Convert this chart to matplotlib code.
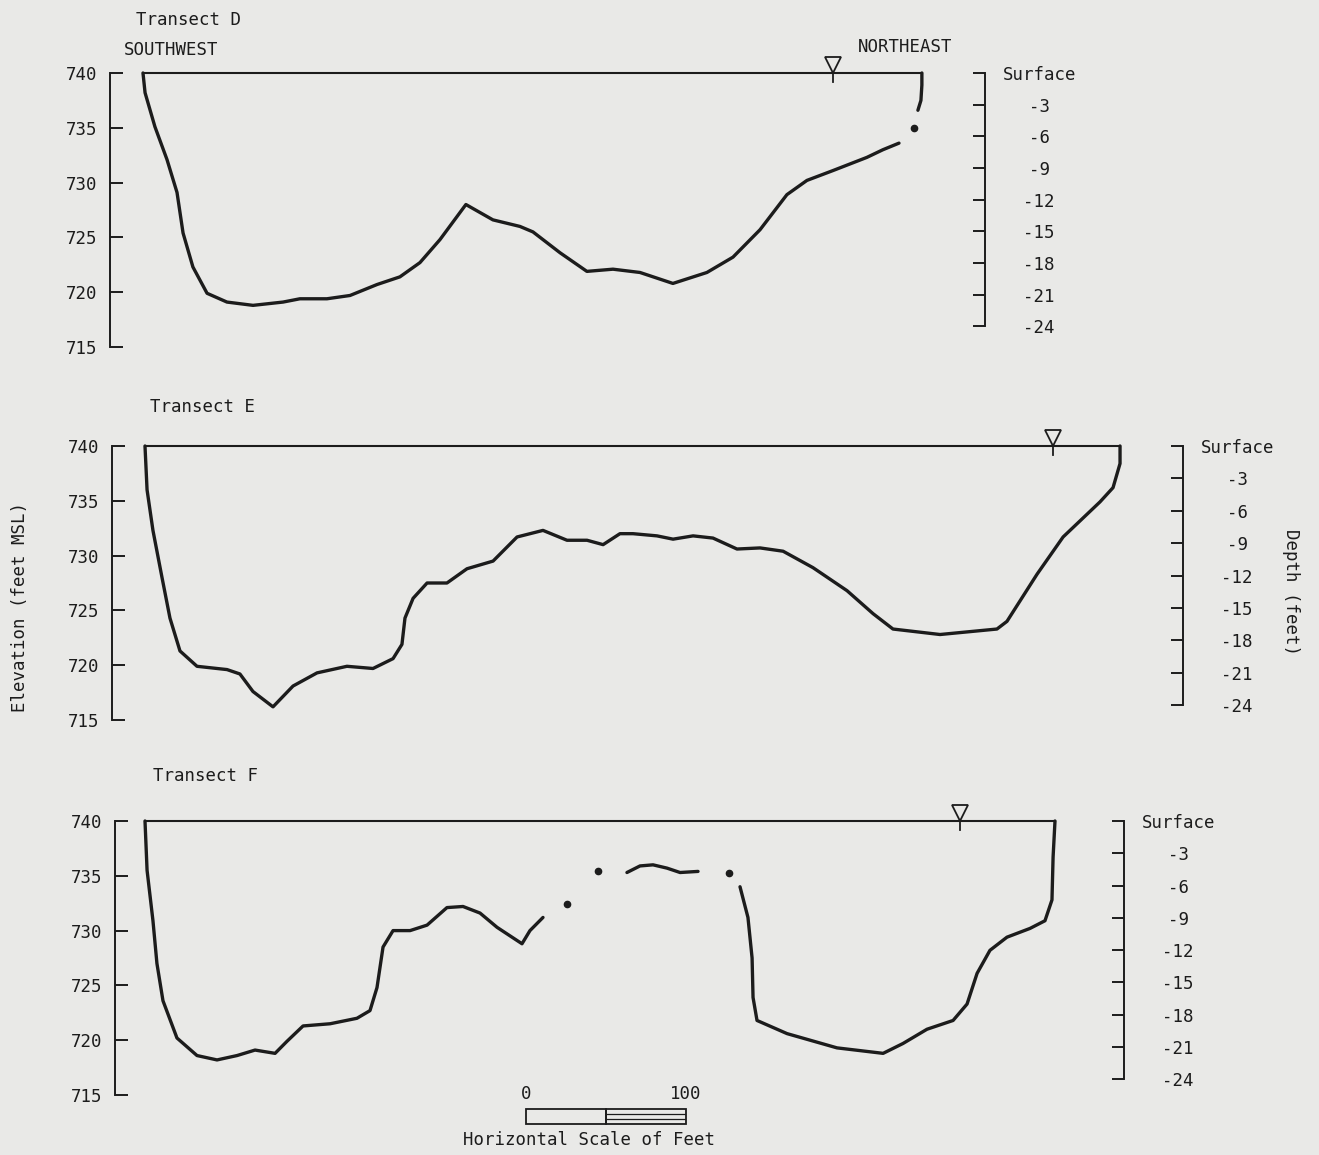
import matplotlib
matplotlib.use('Agg')
import matplotlib.pyplot as plt
from matplotlib.patches import Rectangle
from matplotlib.transforms import offset_copy

W, H = 1319, 1155
BG = '#e9e9e7'
INK = '#1c1c1c'
FONT = 'DejaVu Sans Mono'
FS = 12.5

plt.rcParams['font.family'] = [FONT, 'DejaVu Sans']
plt.rcParams['text.color'] = INK

# axis scales
ELEV_TICKS = [715, 720, 725, 730, 735, 740]
DEPTH_TICKS = [0, -3, -6, -9, -12, -15, -18, -21, -24]
DEPTH_LABELS = ['Surface', '-3', '-6', '-9', '-12', '-15', '-18', '-21', '-24']
SCALE_TICKS = [0, 100]

# Transect D (distance from southwest bank in feet, elevation in feet MSL)
D_MAIN_X = [0, 1.3, 7.5, 15.1, 21.4, 25.2, 31.4, 40.3, 52.8, 69.2, 88.1, 98.7, 115.7,
            130.2, 147.2, 161.6, 174.2, 186.8, 203.1, 220.1, 237.1, 245.3, 262.3,
            279.2, 295.6, 312.6, 333.3, 354.7, 371.1, 388.1, 405.0, 417.6, 434.0,
            455.3, 465.4, 475.5]
D_MAIN_ELEV = [740, 738.2, 735.1, 732.1, 729.1, 725.4, 722.3, 719.9, 719.1, 718.8, 719.1,
               719.4, 719.4, 719.7, 720.7, 721.4, 722.7, 724.8, 728.0, 726.6, 726.0,
               725.5, 723.6, 721.9, 722.1, 721.8, 720.8, 721.8, 723.2, 725.7, 728.9,
               730.2, 731.1, 732.3, 733.0, 733.6]
D_BANK_X = [487.4, 489.3, 489.9, 489.9]
D_BANK_ELEV = [736.6, 737.5, 738.9, 740]
D_DOTS_X = [484.9]
D_DOTS_ELEV = [735.0]
D_GAUGE_X = 434.0

# Transect E
E_X = [0, 1.3, 5.0, 10.7, 15.7, 22.0, 32.7, 51.6, 59.7, 67.9, 80.5, 93.1, 108.2, 127.0,
       143.4, 156.0, 161.6, 163.5, 168.6, 177.4, 189.9, 202.5, 218.9, 234.0, 250.3,
       265.4, 278.0, 288.1, 298.7, 306.9, 322.0, 332.1, 344.7, 357.2, 372.3, 386.8,
       401.3, 420.1, 441.5, 457.9, 470.4, 500.0, 535.8, 542.1, 561.0, 577.4, 600.6,
       608.8, 613.2, 613.2]
E_ELEV = [740, 736.0, 732.3, 728.0, 724.3, 721.3, 719.9, 719.6, 719.2, 717.6, 716.2,
          718.1, 719.3, 719.9, 719.7, 720.6, 721.9, 724.3, 726.1, 727.5, 727.5, 728.8,
          729.5, 731.7, 732.3, 731.4, 731.4, 731.0, 732.0, 732.0, 731.8, 731.5, 731.8,
          731.6, 730.6, 730.7, 730.4, 728.9, 726.8, 724.7, 723.3, 722.8, 723.3, 724.0,
          728.3, 731.7, 734.9, 736.2, 738.4, 740]
E_GAUGE_X = 571.1

# Transect F
F_LEFT_X = [0, 1.3, 5.0, 7.5, 11.3, 20.1, 32.7, 45.3, 57.9, 69.2, 81.8, 89.3, 99.4,
            116.4, 133.3, 141.5, 145.9, 149.7, 156.0, 166.7, 177.4, 189.9, 200.0,
            210.7, 221.4, 237.1, 242.1, 250.3]
F_LEFT_ELEV = [740, 735.5, 730.9, 727.0, 723.6, 720.2, 718.6, 718.2, 718.6, 719.1, 718.8,
               719.9, 721.3, 721.5, 722.0, 722.7, 724.8, 728.5, 730.0, 730.0, 730.5,
               732.1, 732.2, 731.6, 730.3, 728.8, 730.0, 731.2]
F_MID_X = [303.1, 311.3, 319.5, 328.3, 336.5, 347.8]
F_MID_ELEV = [735.3, 735.9, 736.0, 735.7, 735.3, 735.4]
F_RIGHT_X = [374.2, 379.2, 381.8, 382.4, 384.9, 403.8, 435.2, 464.2, 476.7, 491.8,
             508.2, 517.0, 523.3, 531.4, 542.1, 556.6, 566.0, 570.4, 571.1, 572.3]
F_RIGHT_ELEV = [734.0, 731.2, 727.5, 723.9, 721.8, 720.6, 719.3, 718.8, 719.7, 721.0,
                721.8, 723.3, 726.1, 728.2, 729.4, 730.2, 730.9, 732.8, 736.7, 740]
F_DOTS_X = [265.4, 284.9, 367.3]
F_DOTS_ELEV = [732.4, 735.4, 735.3]
F_GAUGE_X = 512.6


def px_rect(left, top, right, bottom):
    return [left / W, 1 - bottom / H, (right - left) / W, (bottom - top) / H]


def fig_text(x, y, s, **kw):
    fig.text(x / W, 1 - y / H, s, fontsize=FS, family=FONT, **kw)


def draw_transect(box, xlim, depth_lim, segments, dots, gauge_x):
    ax = fig.add_axes(px_rect(*box))
    ax.set_xlim(xlim)
    ax.set_ylim(715, 740)
    ax.patch.set_visible(False)

    for xs, ys in segments:
        ax.plot(xs, ys, color=INK, lw=2.4, solid_capstyle='round',
                solid_joinstyle='round', clip_on=False)
    if dots:
        ax.plot(dots[0], dots[1], 'o', ms=4.5, color=INK, clip_on=False)

    # water surface
    x_start = segments[0][0][0]
    x_end = segments[-1][0][-1]
    ax.plot([x_start, x_end], [740, 740], color=INK, lw=1.5, clip_on=False)
    ax.plot([gauge_x, gauge_x], [740, 739.2], color=INK, lw=1.3, clip_on=False)
    lift = offset_copy(ax.transData, fig=fig, y=6, units='points')
    ax.plot([gauge_x], [740], marker='v', ms=12, mfc=BG, mec=INK, mew=1.3,
            transform=lift, clip_on=False)

    for side in ['top', 'right', 'bottom']:
        ax.spines[side].set_visible(False)
    ax.spines['left'].set_linewidth(1.4)
    ax.spines['left'].set_color(INK)
    ax.set_xticks([])
    ax.set_yticks(ELEV_TICKS)
    ax.tick_params(axis='y', direction='in', length=9.5, width=1.4, pad=9,
                   labelsize=FS, colors=INK)

    ax2 = ax.twinx()
    ax2.set_ylim(depth_lim)
    ax2.patch.set_visible(False)
    for side in ['top', 'left', 'bottom']:
        ax2.spines[side].set_visible(False)
    ax2.spines['right'].set_bounds(-24, 0)
    ax2.spines['right'].set_linewidth(1.4)
    ax2.spines['right'].set_color(INK)
    ax2.set_yticks(DEPTH_TICKS)
    ax2.set_yticklabels(DEPTH_LABELS)
    ax2.tick_params(axis='y', direction='in', length=9, width=1.4, pad=39,
                    labelsize=FS, colors=INK)
    for lab in ax2.get_yticklabels():
        lab.set_ha('center')
    return ax


fig = plt.figure(figsize=(W / 100, H / 100), dpi=100, facecolor=BG)

draw_transect((110, 73, 985, 347), (-20.75, 529.6), (-25.95, -0.47),
              [(D_MAIN_X, D_MAIN_ELEV), (D_BANK_X, D_BANK_ELEV)],
              (D_DOTS_X, D_DOTS_ELEV), D_GAUGE_X)
draw_transect((112, 446, 1183, 720), (-20.75, 652.8), (-25.37, -0.27),
              [(E_X, E_ELEV)], None, E_GAUGE_X)
draw_transect((115, 821, 1124, 1095), (-18.87, 615.7), (-25.46, -0.37),
              [(F_LEFT_X, F_LEFT_ELEV), (F_MID_X, F_MID_ELEV), (F_RIGHT_X, F_RIGHT_ELEV)],
              (F_DOTS_X, F_DOTS_ELEV), F_GAUGE_X)

# labels
fig_text(136, 20, 'Transect D', ha='left', va='center')
fig_text(124, 50, 'SOUTHWEST', ha='left', va='center')
fig_text(858, 47, 'NORTHEAST', ha='left', va='center')
fig_text(150, 407, 'Transect E', ha='left', va='center')
fig_text(153, 776, 'Transect F', ha='left', va='center')
fig_text(20, 607, 'Elevation (feet MSL)', ha='center', va='center', rotation=90)
fig_text(1291, 592, 'Depth (feet)', ha='center', va='center', rotation=-90)
fig_text(589, 1140, 'Horizontal Scale of Feet', ha='center', va='center')

# horizontal scale bar
sax = fig.add_axes(px_rect(526, 1109, 686, 1124))
sax.set_xlim(0, 100)
sax.set_ylim(0, 1)
sax.patch.set_visible(False)
for s in sax.spines.values():
    s.set_visible(False)
sax.add_patch(Rectangle((0, 0), 50, 1, fill=False, ec=INK, lw=1.3, clip_on=False))
sax.add_patch(Rectangle((50, 0), 50, 1, fill=False, ec=INK, lw=1.3, clip_on=False))
sax.plot([50, 100], [0.36, 0.36], color=INK, lw=0.9)
sax.plot([50, 100], [0.64, 0.64], color=INK, lw=0.9)
sax.set_yticks([])
sax.xaxis.tick_top()
sax.set_xticks(SCALE_TICKS)
sax.set_xticklabels([str(t) for t in SCALE_TICKS])
sax.tick_params(axis='x', length=0, pad=4, labelsize=FS, colors=INK)

fig.savefig('out.png', dpi=100, facecolor=BG)
